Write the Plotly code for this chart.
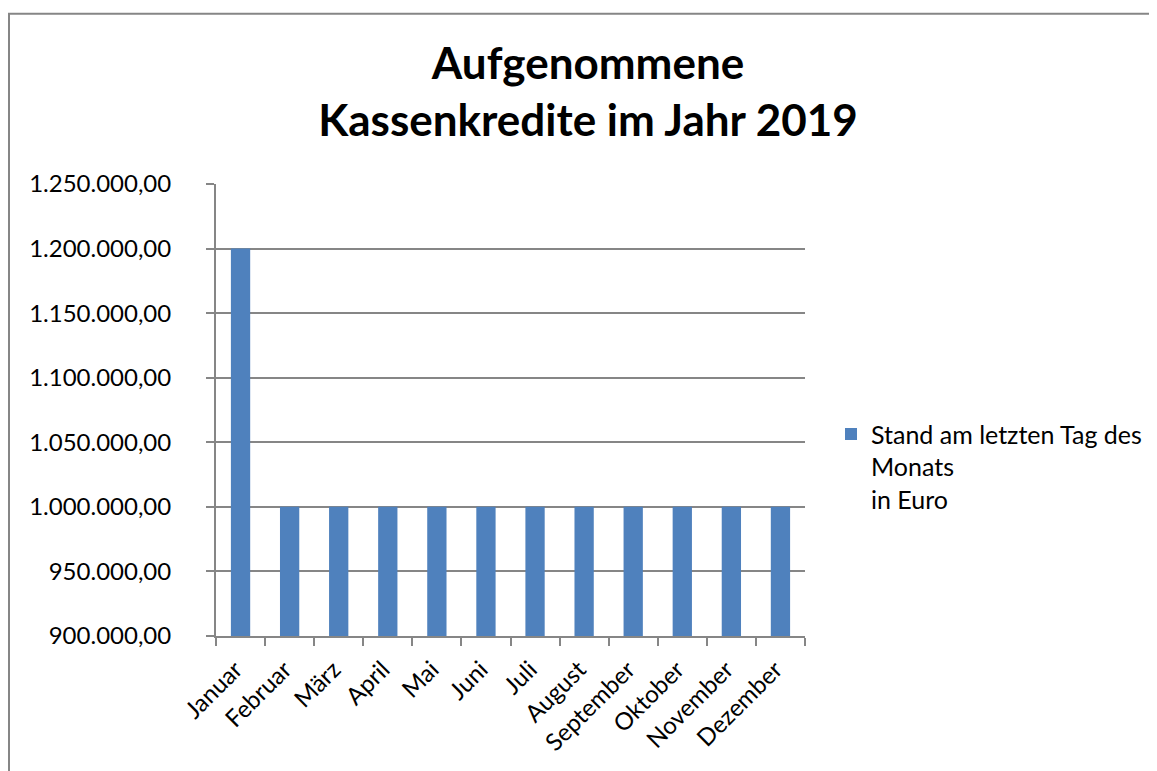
import plotly.graph_objects as go

months = ["Januar", "Februar", "März", "April", "Mai", "Juni", "Juli",
          "August", "September", "Oktober", "November", "Dezember"]
values = [1200000, 1000000, 1000000, 1000000, 1000000, 1000000, 1000000,
          1000000, 1000000, 1000000, 1000000, 1000000]
series_name = "Stand am letzten Tag des<br>Monats<br>in Euro"
title_text = "Aufgenommene<br>Kassenkredite im Jahr 2019"
y_ticks = [900000, 950000, 1000000, 1050000, 1100000, 1150000, 1200000, 1250000]

FONT = "Lato"
GRID = "#868686"
OFF = 8  # page body margin

fig = go.Figure()
fig.add_trace(go.Bar(
    x=months, y=values, name=series_name,
    marker=dict(color="#4F81BD", line=dict(width=0)),
    showlegend=True,
))

W, H = 1157 - OFF, 771 - OFF
PL, PR, PT, PB = 216, 805, 183.5, 636  # plot area in page pixels
L, T = PL - OFF, PT - OFF
R, B = W - (PR - OFF), H - (PB - OFF)
pw, ph = PR - PL, PB - PT


def px(x):
    return (x - PL) / pw


def py(y):
    return (PB - y) / ph


fig.update_layout(
    width=W, height=H,
    margin=dict(l=L, r=R, t=T, b=B, autoexpand=False),
    paper_bgcolor="white", plot_bgcolor="white",
    separators=",.",
    font=dict(family=FONT, size=24, color="black"),
    bargap=0.607,
    title=dict(text="<b>" + title_text + "</b>", x=(588 - OFF) / W, xanchor="center",
               xref="container", yref="container", y=1 - 71 / H, yanchor="top",
               font=dict(family=FONT, size=44, color="black")),
    legend=dict(x=px(831), xanchor="left", y=py(411), yanchor="top",
                valign="top", font=dict(family=FONT, size=25, color="black"),
                itemwidth=30, bgcolor="rgba(0,0,0,0)", tracegroupgap=0),
    xaxis=dict(type="category", tickangle=-45, tickson="boundaries",
               ticks="outside", ticklen=8, tickwidth=2, tickcolor=GRID,
               showline=True, linecolor=GRID, linewidth=2, showgrid=False,
               ticklabelstandoff=8, ticklabelshift=-5,
               tickfont=dict(family=FONT, size=24, color="black")),
    yaxis=dict(range=[900000, 1250000], tickvals=y_ticks, tickformat=",.2f",
               ticks="outside", ticklen=8, tickwidth=2, tickcolor=GRID,
               showline=True, linecolor=GRID, linewidth=2,
               showgrid=True, gridcolor=GRID, gridwidth=1.5, zeroline=False,
               ticklabelstandoff=30,
               tickfont=dict(family=FONT, size=24, color="black")),
    shapes=[dict(type="rect", xref="paper", yref="paper",
                 x0=px(9), x1=px(1157 + 30),
                 y0=py(771 + 30), y1=py(13),
                 line=dict(color=GRID, width=2), fillcolor="rgba(0,0,0,0)", layer="below")],
)

fig.write_html("out.html")
